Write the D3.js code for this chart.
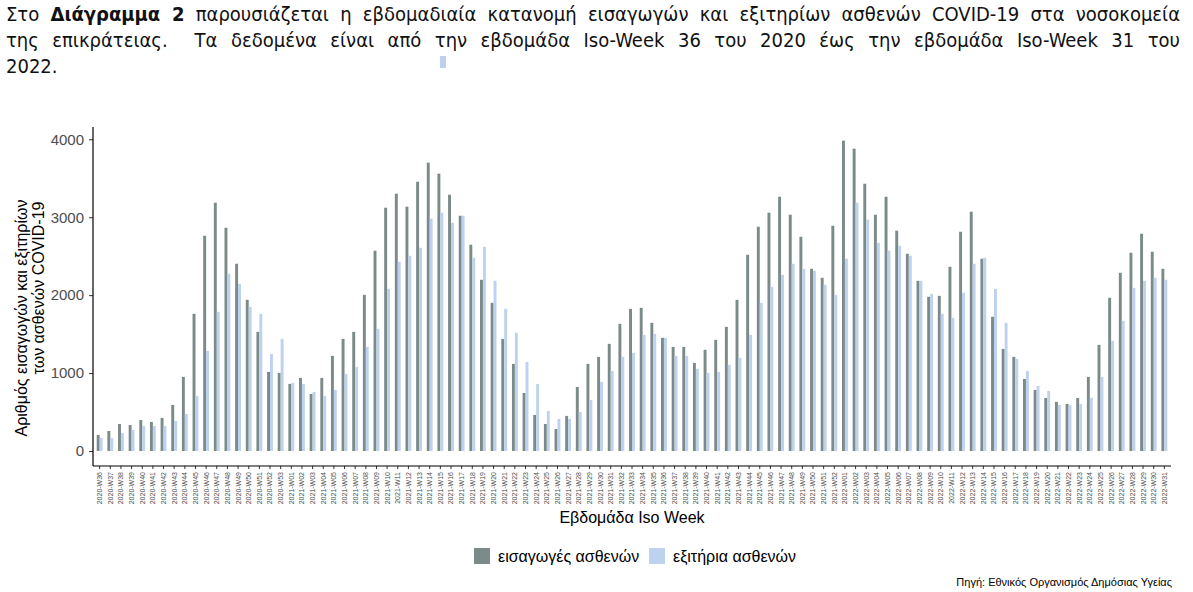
<!DOCTYPE html>
<html>
<head>
<meta charset="utf-8">
<style>
  body { margin: 0; background: #fff; }
  #intro {
    position: absolute; left: 6px; top: 1px; width: 1174px;
    font-family: "Liberation Sans Narrow", "DejaVu Sans Condensed", "Roboto", sans-serif;
    font-size: 20px; line-height: 26px; color: #111;
  }
  #intro div { text-align: justify; text-align-last: justify; }
  #intro div.last { text-align-last: left; }
  #mark { position: absolute; left: 440px; top: 56px; width: 6px; height: 12px; background: #bdd1ee; z-index: 2; }
  svg { position: absolute; left: 0; top: 0; }
  .axis text { font-family: "Liberation Sans", Arial, sans-serif; }
</style>
</head>
<body>
<div id="intro">
  <div>Στο <b>Διάγραμμα 2</b> παρουσιάζεται η εβδομαδιαία κατανομή εισαγωγών και εξιτηρίων ασθενών COVID-19 στα νοσοκομεία</div>
  <div>της επικράτειας.&nbsp; Τα δεδομένα είναι από την εβδομάδα Iso-Week 36 του 2020 έως την εβδομάδα Iso-Week 31 του</div>
  <div class="last">2022.</div>
</div>
<div id="mark"></div>
<script src="https://d3js.org/d3.v7.min.js"></script>
<script>
// weekly categories
var weeks = [
  "2020-W36","2020-W37","2020-W38","2020-W39","2020-W40","2020-W41","2020-W42","2020-W43","2020-W44","2020-W45",
  "2020-W46","2020-W47","2020-W48","2020-W49","2020-W50","2020-W51","2020-W52","2020-W53",
  "2021-W01","2021-W02","2021-W03","2021-W04","2021-W05","2021-W06","2021-W07","2021-W08","2021-W09","2021-W10",
  "2021-W11","2021-W12","2021-W13","2021-W14","2021-W15","2021-W16","2021-W17","2021-W18","2021-W19","2021-W20",
  "2021-W21","2021-W22","2021-W23","2021-W24","2021-W25","2021-W26","2021-W27","2021-W28","2021-W29","2021-W30",
  "2021-W31","2021-W32","2021-W33","2021-W34","2021-W35","2021-W36","2021-W37","2021-W38","2021-W39","2021-W40",
  "2021-W41","2021-W42","2021-W43","2021-W44","2021-W45","2021-W46","2021-W47","2021-W48","2021-W49","2021-W50",
  "2021-W51","2021-W52",
  "2022-W01","2022-W02","2022-W03","2022-W04","2022-W05","2022-W06","2022-W07","2022-W08","2022-W09","2022-W10",
  "2022-W11","2022-W12","2022-W13","2022-W14","2022-W15","2022-W16","2022-W17","2022-W18","2022-W19","2022-W20",
  "2022-W21","2022-W22","2022-W23","2022-W24","2022-W25","2022-W26","2022-W27","2022-W28","2022-W29","2022-W30",
  "2022-W31"
];

// admissions (εισαγωγές)
var admissions = [
  206,257,347,334,398,373,424,591,951,1760,2762,3186,2865,2403,1940,1529,1015,1002,
  861,938,732,938,1221,1439,1529,2004,2570,
  3122,3302,3135,3456,3700,3559,3289,3019,2647,2197,
  1901,1439,1118,745,463,347,283,450,822,1118,
  1208,1375,1632,1824,1837,1645,1452,1336,1336,1131,
  1298,1426,1593,1940,2518,2878,3058,3263,3032,2749,
  2338,2223,2891,
  3983,3880,3430,3032,3263,2827,2531,2184,1979,
  1991,2364,2814,3071,2467,1722,1310,1208,925,784,
  681,630,604,681,951,1362,1966,2287,2544,2788,
  2557,2338
];

// discharges (εξιτήρια)
var discharges = [
  167,167,231,270,321,321,321,385,475,707,1285,1786,2274,2146,1850,1760,1246,1439,
  874,861,758,707,784,989,1079,1336,1567,
  2081,2428,2505,2608,2981,3058,2929,3019,2480,2621,
  2184,1824,1516,1143,861,514,411,411,501,655,
  887,1028,1208,1259,1490,1503,1452,1221,1221,1054,
  1002,1015,1105,1195,1490,1901,2107,2261,2403,2338,
  2313,2133,2004,
  2467,3186,2968,2672,2570,2634,2505,2184,2017,
  1760,1709,2030,2403,2480,2081,1645,1182,1028,835,
  771,591,591,604,681,951,1413,1670,2094,2184,
  2223,2197
];

var seriesNames = ["εισαγωγές ασθενών", "εξιτήρια ασθενών"];
var seriesColors = ["#7b8b8a", "#bed2ef"];
var yTicks = [0, 1000, 2000, 3000, 4000];

var W = 1193, H = 592;
var pLeft = 93, pRight = 1171, pTop = 127, pBottom = 466;
var font = "Liberation Sans, Arial, sans-serif";

var svg = d3.select("body").append("svg").attr("width", W).attr("height", H);

var x = d3.scaleBand().domain(weeks).range([pLeft, pRight])
  .paddingInner(0.45).paddingOuter(0.35);
var xs = d3.scaleBand().domain(seriesNames).range([0, x.bandwidth()]);
var y = d3.scaleLinear().domain([0, 4000]).range([451, 139.3]);

var rows = weeks.map(function(w, i) {
  return { week: w, values: [admissions[i], discharges[i]] };
});

// bars
var g = svg.append("g");
rows.forEach(function(r) {
  r.values.forEach(function(v, k) {
    g.append("rect")
      .attr("x", x(r.week) + xs(seriesNames[k]))
      .attr("y", y(v))
      .attr("width", xs.bandwidth())
      .attr("height", y(0) - y(v))
      .attr("fill", seriesColors[k]);
  });
});

// y axis
var yAxis = svg.append("g").attr("class", "axis")
  .attr("transform", "translate(" + pLeft + ",0)")
  .call(d3.axisLeft(y).tickValues(yTicks).tickFormat(d3.format("d")).tickSize(4).tickPadding(5));
yAxis.select(".domain").remove();
yAxis.selectAll(".tick line").attr("stroke", "#333");
yAxis.selectAll("text").attr("font-size", 15).attr("fill", "#4d4d4d");
svg.append("line").attr("x1", pLeft).attr("x2", pLeft).attr("y1", pTop).attr("y2", pBottom)
  .attr("stroke", "#000").attr("stroke-width", 1.2);

// x axis
var xAxis = svg.append("g").attr("class", "axis")
  .attr("transform", "translate(0," + pBottom + ")")
  .call(d3.axisBottom(x).tickSize(3).tickPadding(2));
xAxis.select(".domain").remove();
xAxis.selectAll(".tick line").attr("stroke", "#333");
xAxis.selectAll("text")
  .attr("font-size", 7).attr("fill", "#4d4d4d")
  .attr("transform", "rotate(-90)")
  .attr("text-anchor", "end")
  .attr("x", -6).attr("y", 0).attr("dy", "0.35em");
svg.append("line").attr("x1", pLeft).attr("x2", pRight).attr("y1", pBottom).attr("y2", pBottom)
  .attr("stroke", "#000").attr("stroke-width", 1.2);

// axis titles
svg.append("text")
  .attr("x", (pLeft + pRight) / 2).attr("y", 523)
  .attr("text-anchor", "middle")
  .attr("font-family", font).attr("font-size", 16)
  .text("Εβδομάδα Iso Week");

svg.append("text")
  .attr("transform", "translate(27,318) rotate(-90)")
  .attr("text-anchor", "middle")
  .attr("font-family", font).attr("font-size", 16)
  .text("Αριθμός εισαγωγών και εξιτηρίων");
svg.append("text")
  .attr("transform", "translate(44,288) rotate(-90)")
  .attr("text-anchor", "middle")
  .attr("font-family", font).attr("font-size", 16)
  .text("των ασθενών COVID-19");

// legend
var legendX = [474, 649];
seriesNames.forEach(function(name, k) {
  svg.append("rect")
    .attr("x", legendX[k]).attr("y", 548).attr("width", 16).attr("height", 16)
    .attr("fill", seriesColors[k]);
  svg.append("text")
    .attr("x", legendX[k] + 24).attr("y", 562)
    .attr("font-family", font).attr("font-size", 16)
    .text(name);
});

// caption
svg.append("text")
  .attr("x", 1172).attr("y", 586)
  .attr("text-anchor", "end")
  .attr("font-family", font).attr("font-size", 11)
  .text("Πηγή: Εθνικός Οργανισμός Δημόσιας Υγείας");
</script>
</body>
</html>
